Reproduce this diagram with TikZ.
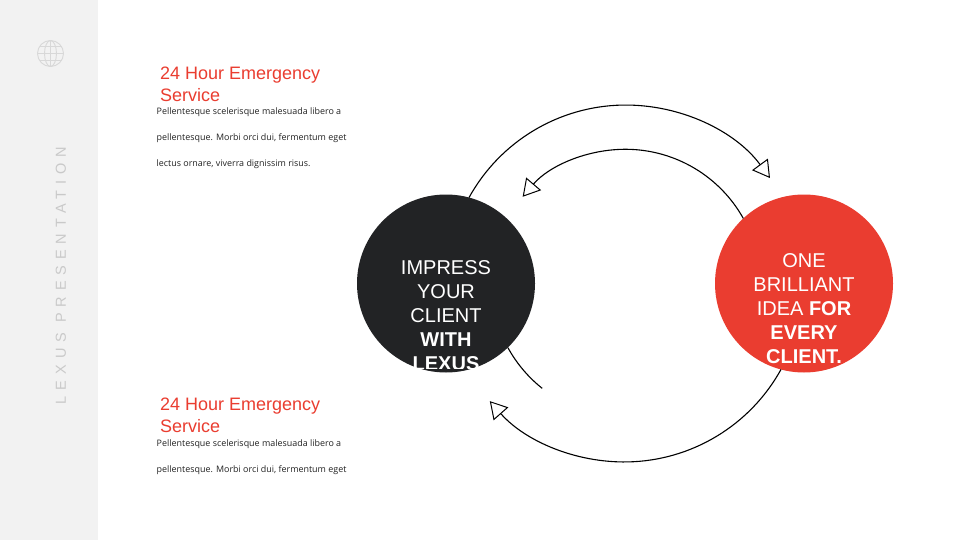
\documentclass[tikz,border=0pt]{standalone}
\usepackage{fontspec}
\setmainfont{Liberation Sans}
\newfontfamily\bodyfont{Open Sans}
\newfontfamily\sidefont[LetterSpace=41]{Liberation Sans}
\usetikzlibrary{arrows.meta}
\definecolor{sidegrey}{HTML}{F2F2F2}
\definecolor{sidetext}{HTML}{C9C9C9}
\definecolor{iconline}{HTML}{D8D8D8}
\definecolor{accent}{HTML}{EA3D30}
\definecolor{darkdisc}{HTML}{222325}
\definecolor{bodyink}{HTML}{222222}
\tikzset{
  x=1pt,y=-1pt,
  flow/.style={line width=1.1pt,black},
  flowtip/.style={flow,-{Triangle[open,length=17pt,width=19.5pt,fill=white,line width=1pt]}},
  heading/.style={anchor=north west,inner sep=0pt,align=left,text=accent,font=\fontsize{18}{22}\selectfont},
  body/.style={anchor=north west,inner sep=0pt,align=left,text=bodyink,font=\bodyfont\fontsize{8.93}{26}\selectfont},
  disc/.style={circle,minimum size=178pt,inner sep=0pt,outer sep=0pt},
  disctext/.style={inner sep=0pt,align=center,text=white,font=\fontsize{20}{24}\selectfont},
  icon/.style={iconline,line width=0.9pt}
}
\begin{document}
\begin{tikzpicture}
\useasboundingbox (0,0) rectangle (960,540);
\fill[white] (0,0) rectangle (960,540);
\fill[sidegrey] (0,0) rectangle (98,540);
% globe icon
\coordinate (globe) at (50.5,53.5);
\draw[icon] (globe) circle[radius=13pt];
\draw[icon] (globe) ellipse[x radius=6pt,y radius=13pt];
\draw[icon] (37.5,53.5) -- (63.5,53.5);
\draw[icon] (50.5,40.5) -- (50.5,66.5);
\draw[icon] (39.5,46.5) -- (61.5,46.5);
\draw[icon] (39.5,60.5) -- (61.5,60.5);
% side text
\node[rotate=90,inner sep=0pt,text=sidetext,font=\sidefont\fontsize{14.5}{14.5}\selectfont] (side) at (61,275.5) {LEXUS PRESENTATION};
% text blocks
\node[heading] (h1) at (160,66.5) {24 Hour Emergency\\Service};
\node[body] (b1) at (156.5,108) {Pellentesque scelerisque malesuada libero a\\pellentesque. Morbi orci dui, fermentum eget\\lectus ornare, viverra dignissim risus.};
\node[heading] (h2) at (160,398) {24 Hour Emergency\\Service};
\node[body] (b2) at (156.5,440) {Pellentesque scelerisque malesuada libero a\\pellentesque. Morbi orci dui, fermentum eget};
% discs
\node[disc,fill=darkdisc] (black) at (446,283.5) {};
\node[disc,fill=accent] (red) at (804,283.5) {};
\begin{scope}
\clip (446,283.5) circle[radius=89pt];
\clip (350,190) rectangle (540,368);
\node[disctext] (blacktext) at (446,315.3) {IMPRESS\\YOUR\\CLIENT\\\textbf{WITH}\\\textbf{LEXUS}};
\end{scope}
\node[disctext] (redtext) at (804,309) {ONE\\BRILLIANT\\IDEA \textbf{FOR}\\\textbf{EVERY}\\\textbf{CLIENT.}};
% connectors (all concentric about the midpoint of the discs)
\draw[flowtip] (black.75.7) arc[start angle=151.1,end angle=36.3,radius=179pt];
\draw[flowtip] (red.133.4) arc[start angle=29.2,end angle=139.6,radius=135pt];
\draw[flowtip] (red.255.7) arc[start angle=-28.9,end angle=-138.7,radius=179pt];
\draw[flow] (black.-46.6) arc[start angle=208.7,end angle=231.5,radius=135pt];
\end{tikzpicture}
\end{document}
